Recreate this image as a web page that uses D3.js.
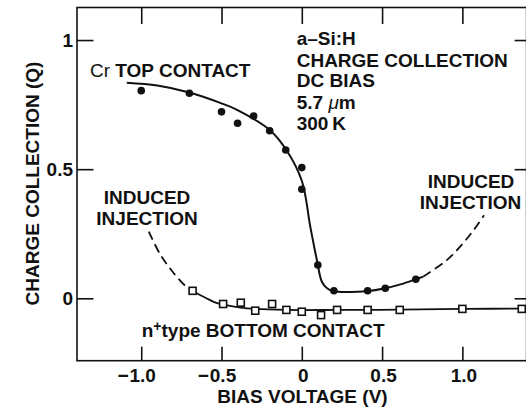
<!DOCTYPE html>
<html><head><meta charset="utf-8">
<script src="https://cdn.jsdelivr.net/npm/d3@7"></script>
<style>
html,body{margin:0;padding:0;background:#fff;}
svg{display:block;}
text{font-family:"Liberation Sans",Arial,Helvetica,sans-serif;font-weight:bold;fill:#111;}
</style></head>
<body>
<script>
// ---- data ----
const xTicks = [-1.0, -0.5, 0, 0.5, 1.0];
const xTickLabels = ["\u22121.0", "\u22120.5", "0", "0.5", "1.0"];
const yTicks = [0, 0.5, 1];
const yTickLabels = ["0", "0.5", "1"];

// Cr top contact (filled circles)
const topV = [-1.0, -0.70, -0.50, -0.40, -0.30, -0.20, -0.10, 0.0, 0.0, 0.10, 0.20, 0.41, 0.52, 0.71];
const topQ = [0.804, 0.794, 0.722, 0.678, 0.706, 0.649, 0.574, 0.506, 0.422, 0.129, 0.029, 0.029, 0.039, 0.074];
// fitted curve (solid) and extrapolation (dashed)
const topFitV = [-1.09, -0.90, -0.70, -0.50, -0.40, -0.20, -0.10, 0.0, 0.053, 0.094, 0.125, 0.157, 0.20, 0.30, 0.40, 0.52, 0.62, 0.71, 0.757];
const topFitQ = [0.835, 0.824, 0.797, 0.755, 0.729, 0.652, 0.578, 0.455, 0.277, 0.148, 0.064, 0.039, 0.027, 0.024, 0.027, 0.039, 0.055, 0.074, 0.084];
const topDashV = [0.757, 0.903, 0.990, 1.07, 1.135];
const topDashQ = [0.084, 0.148, 0.203, 0.264, 0.322];

// n+ type bottom contact (open squares)
const botV = [-0.68, -0.49, -0.38, -0.29, -0.185, -0.096, 0.0, 0.12, 0.22, 0.41, 0.61, 1.0, 1.37];
const botQ = [0.029, -0.022, -0.017, -0.048, -0.022, -0.045, -0.052, -0.065, -0.045, -0.045, -0.045, -0.041, -0.041];
const botFitV = [-0.683, -0.60, -0.527, -0.38, -0.29, -0.10, 0.22, 0.61, 1.0, 1.42];
const botFitQ = [0.029, 0.002, -0.019, -0.036, -0.041, -0.045, -0.045, -0.044, -0.041, -0.040];
const botDashV = [-0.953, -0.88, -0.797, -0.72, -0.683];
const botDashQ = [0.258, 0.168, 0.097, 0.045, 0.029];

// ---- layout ----
const W = 526, H = 409, FS = 19;
const svg = d3.select("body").append("svg").attr("width", W).attr("height", H);
const x = d3.scaleLinear().domain([-1.4, 1.4]).range([77, 526.6]);
const y = d3.scaleLinear().domain([-0.2416, 1.126]).range([360.7, 7.5]);
const X0 = x.range()[0], X1 = x.range()[1], Y0 = y.range()[0], Y1 = y.range()[1];

// frame
svg.append("rect").attr("x", X0).attr("y", Y1).attr("width", X1 - X0).attr("height", Y0 - Y1)
  .attr("fill", "none").attr("stroke", "#111").attr("stroke-width", 1.6);

// ticks via axes
const axB = svg.append("g").attr("transform", `translate(0,${Y0})`)
  .call(d3.axisBottom(x).tickValues(xTicks).tickSizeInner(-14).tickSizeOuter(0).tickFormat(""));
const axT = svg.append("g").attr("transform", `translate(0,${Y1})`)
  .call(d3.axisTop(x).tickValues(xTicks).tickSizeInner(-16.5).tickSizeOuter(0).tickFormat(""));
const axL = svg.append("g").attr("transform", `translate(${X0},0)`)
  .call(d3.axisLeft(y).tickValues(yTicks).tickSizeInner(-16.5).tickSizeOuter(0).tickFormat(""));
const axR = svg.append("g").attr("transform", `translate(${X1},0)`)
  .call(d3.axisRight(y).tickValues(yTicks).tickSizeInner(-12).tickSizeOuter(0).tickFormat(""));
[axB, axT, axL, axR].forEach(g => {
  g.select(".domain").remove();
  g.selectAll(".tick line").attr("stroke", "#111").attr("stroke-width", 1.6);
});

// x tick labels (minus sign hangs to the left of the number)
xTicks.forEach((v, i) => {
  const lab = xTickLabels[i];
  const neg = lab.startsWith("\u2212");
  const num = neg ? lab.slice(1) : lab;
  const t = svg.append("text").attr("x", x(v) + 1.5).attr("y", 381.7).attr("text-anchor", "middle")
    .attr("font-size", FS).text(num);
  if (neg) {
    const w = t.node().getComputedTextLength();
    svg.append("text").attr("x", x(v) + 1.5 - w / 2 - 1).attr("y", 381.7).attr("text-anchor", "end")
      .attr("font-size", FS).text("\u2212");
  }
});
// y tick labels
yTicks.forEach((v, i) => {
  svg.append("text").attr("x", 73).attr("y", y(v) + 6.8).attr("text-anchor", "end")
    .attr("font-size", FS).text(yTickLabels[i]);
});

// axis titles
svg.append("text").attr("x", 302.5).attr("y", 402.5).attr("text-anchor", "middle")
  .attr("font-size", FS).text("BIAS VOLTAGE (V)");
svg.append("text").attr("transform", "translate(38.5,183.5) rotate(-90)").attr("text-anchor", "middle")
  .attr("font-size", FS).text("CHARGE COLLECTION (Q)");

// curves
const line = d3.line().x(d => x(d[0])).y(d => y(d[1])).curve(d3.curveCatmullRom.alpha(0.5));
const zip = (a, b) => a.map((v, i) => [v, b[i]]);
svg.append("path").attr("d", line(zip(topFitV, topFitQ))).attr("fill", "none")
  .attr("stroke", "#111").attr("stroke-width", 2);
svg.append("path").attr("d", line(zip(topDashV, topDashQ))).attr("fill", "none")
  .attr("stroke", "#111").attr("stroke-width", 1.8).attr("stroke-dasharray", "9,5");
svg.append("path").attr("d", line(zip(botFitV, botFitQ))).attr("fill", "none")
  .attr("stroke", "#111").attr("stroke-width", 1.8);
svg.append("path").attr("d", line(zip(botDashV, botDashQ))).attr("fill", "none")
  .attr("stroke", "#111").attr("stroke-width", 1.8).attr("stroke-dasharray", "9,5");

// markers
svg.append("g").selectAll("circle").data(zip(topV, topQ)).join("circle")
  .attr("cx", d => x(d[0])).attr("cy", d => y(d[1])).attr("r", 3.8).attr("fill", "#111");
const s = 7;
svg.append("g").selectAll("rect").data(zip(botV, botQ)).join("rect")
  .attr("x", d => x(d[0]) - s / 2).attr("y", d => y(d[1]) - s / 2).attr("width", s).attr("height", s)
  .attr("fill", "#fff").attr("stroke", "#111").attr("stroke-width", 1.6);

// annotations
const info = ["a\u2013Si:H", "CHARGE COLLECTION", "DC BIAS", null, "300\u2009K"];
const infoY = [45, 66.7, 87.3, 109.3, 130];
info.forEach((t, i) => {
  const el = svg.append("text").attr("x", 296.7).attr("y", infoY[i]).attr("font-size", FS);
  if (t) el.text(t);
  else {
    el.append("tspan").text("5.7 ");
    el.append("tspan").attr("font-style", "italic").attr("font-weight", "normal").text("\u03bc");
    el.append("tspan").text("m");
  }
});
const cr = svg.append("text").attr("x", 90).attr("y", 76.7).attr("font-size", FS);
cr.append("tspan").attr("font-weight", "normal").text("Cr ");
cr.append("tspan").text("TOP CONTACT");

svg.append("text").attr("x", 147).attr("y", 204.3).attr("text-anchor", "middle").attr("font-size", FS).text("INDUCED");
svg.append("text").attr("x", 147).attr("y", 225).attr("text-anchor", "middle").attr("font-size", FS).text("INJECTION");
svg.append("text").attr("x", 471).attr("y", 188.3).attr("text-anchor", "middle").attr("font-size", FS).text("INDUCED");
svg.append("text").attr("x", 470.5).attr("y", 209.3).attr("text-anchor", "middle").attr("font-size", FS).text("INJECTION");

const nb = svg.append("text").attr("x", 141.7).attr("y", 337.3).attr("font-size", FS);
nb.append("tspan").text("n");
nb.append("tspan").attr("dy", -6).attr("font-size", 14).text("+");
nb.append("tspan").attr("dy", 6).text("type BOTTOM CONTACT");
</script>
</body></html>
